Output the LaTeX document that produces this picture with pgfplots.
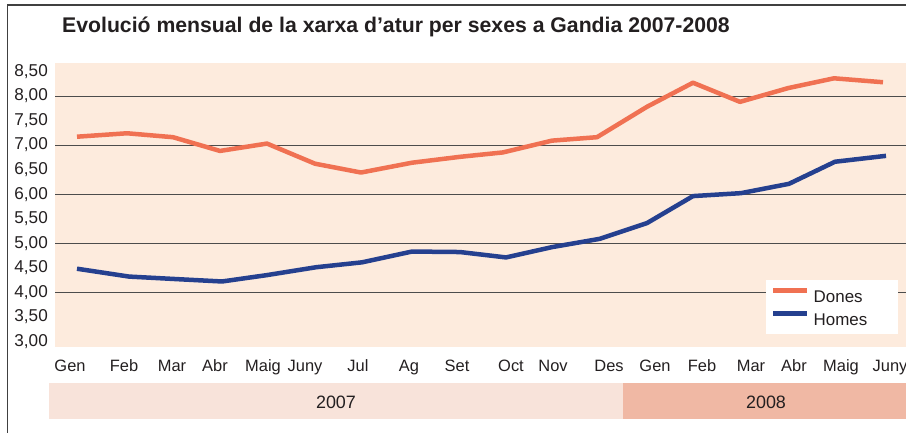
\documentclass[border=0pt]{standalone}
\usepackage{pgfplots}
\pgfplotsset{compat=1.18}
\usepackage{pgfplotstable}
\usepackage{fontspec}
\setmainfont{Liberation Sans}
\definecolor{bgc}{HTML}{FDEBDD}
\definecolor{donesc}{HTML}{F07152}
\definecolor{homesc}{HTML}{25408F}
\definecolor{band07}{HTML}{F8E3DA}
\definecolor{band08}{HTML}{F0B8A4}
\definecolor{txt}{HTML}{231F20}
\pgfplotstableread{
x y
77 7.17
127 7.24
173 7.16
220 6.88
267 7.03
315 6.62
361 6.44
412 6.64
460 6.76
503 6.85
552 7.09
597 7.16
647 7.78
693 8.27
740 7.88
788 8.16
834 8.36
883 8.28
}\dones
\pgfplotstableread{
x y
77 4.48
129 4.32
175 4.27
222 4.22
267 4.35
316 4.51
362 4.61
412 4.83
460 4.82
506 4.71
552 4.92
600 5.09
647 5.41
693 5.96
741 6.02
789 6.21
835 6.66
886 6.78
}\homes
\begin{document}
\begin{tikzpicture}
\path[use as bounding box] (0,0) rectangle (906bp,433bp);
\draw[line width=1.2bp, color=black!75] (7.5bp,0bp) -- (7.5bp,428bp) -- (906bp,428bp);
\node[anchor=base west, inner sep=0pt, text=txt, font=\bfseries\fontsize{21.3}{21.3}\selectfont] at (62bp,400bp) {Evolució mensual de la xarxa d’atur per sexes a Gandia 2007-2008};
\fill[band07] (49bp,14bp) rectangle (622.7bp,50.3bp);
\fill[band08] (622.7bp,14bp) rectangle (906bp,50.3bp);
\node[anchor=base, inner sep=0pt, text=txt, font=\fontsize{18}{18}\selectfont] at (336bp,25bp) {2007};
\node[anchor=base, inner sep=0pt, text=txt, font=\fontsize{18}{18}\selectfont] at (766bp,25bp) {2008};
\begin{axis}[
  at={(55bp,86bp)}, anchor=south west, scale only axis,
  width=851bp, height=284bp,
  xmin=55, xmax=906, ymin=2.885, ymax=8.672,
  axis line style={draw=none}, tick style={draw=none},
  axis background/.style={fill=bgc},
  xtick={70,124,172,215,263,305,358,409,457,511,553,609,655,702,751,794,841,890},
  xticklabels={Gen,Feb,Mar,Abr,Maig,Juny,Jul,Ag,Set,Oct,Nov,Des,Gen,Feb,Mar,Abr,Maig,Juny},
  ytick={3,3.5,4,4.5,5,5.5,6,6.5,7,7.5,8,8.5},
  yticklabels={{3,00},{3,50},{4,00},{4,50},{5,00},{5,50},{6,00},{6,50},{7,00},{7,50},{8,00},{8,50}},
  extra y ticks={4,5,6,7,8},
  extra y tick labels={},
  extra y tick style={ymajorgrids=true, major grid style={draw=black!70, line width=0.9bp}},
  xticklabel style={font=\fontsize{16.5}{18}\selectfont, text=txt, anchor=base, inner sep=0pt, yshift=-24.5bp},
  yticklabel style={font=\fontsize{17.2}{18}\selectfont, text=txt, anchor=east, inner sep=0pt, xshift=-7bp},
  legend cell align=left,
  legend image code/.code={\draw[#1, line width=4.5bp] (0bp,6bp) -- (34bp,6bp);},
  legend style={at={(0.8355,0.0458)}, anchor=south west, draw=none, fill=white,
    inner xsep=5bp, inner ysep=8.5bp, row sep=8.7bp,
    font=\fontsize{17}{17}\selectfont, text=txt,
    nodes={inner sep=0pt, text depth=0pt},
    /tikz/every odd column/.style={column sep=4bp}},
]
\addplot[donesc, line width=4.5bp, line join=round] table[x=x,y=y] {\dones};
\addlegendentry{\makebox[79bp][l]{Dones}}
\addplot[homesc, line width=4.5bp, line join=round] table[x=x,y=y] {\homes};
\addlegendentry{\makebox[79bp][l]{Homes}}
\end{axis}
\end{tikzpicture}
\end{document}
